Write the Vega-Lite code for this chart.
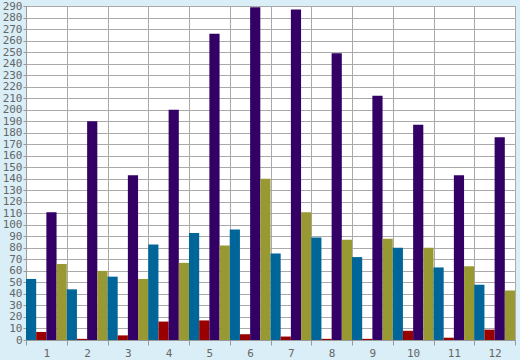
{
  "$schema": "https://vega.github.io/schema/vega-lite/v6.json",
  "width": 489,
  "height": 334,
  "autosize": {"type": "none"},
  "padding": {"left": 26, "top": 6, "right": 5, "bottom": 20},
  "background": "#d9eef6",
  "config": {
    "view": {"fill": "white", "stroke": "#aaaaaa", "strokeWidth": 1},
    "axis": {"labelFont": "DejaVu Sans Mono", "labelFontSize": 11, "labelColor": "#666666", "gridColor": "#aaaaaa", "gridOpacity": 1, "gridWidth": 1, "domainColor": "#999999", "tickColor": "#999999", "title": null}
  },
  "data": {
    "values": [
      {"g": 1, "s": "a", "v": 53}, {"g": 1, "s": "b", "v": 7}, {"g": 1, "s": "c", "v": 111}, {"g": 1, "s": "d", "v": 66},
      {"g": 2, "s": "a", "v": 44}, {"g": 2, "s": "b", "v": 1}, {"g": 2, "s": "c", "v": 190}, {"g": 2, "s": "d", "v": 60},
      {"g": 3, "s": "a", "v": 55}, {"g": 3, "s": "b", "v": 4}, {"g": 3, "s": "c", "v": 143}, {"g": 3, "s": "d", "v": 53},
      {"g": 4, "s": "a", "v": 83}, {"g": 4, "s": "b", "v": 16}, {"g": 4, "s": "c", "v": 200}, {"g": 4, "s": "d", "v": 67},
      {"g": 5, "s": "a", "v": 93}, {"g": 5, "s": "b", "v": 17}, {"g": 5, "s": "c", "v": 266}, {"g": 5, "s": "d", "v": 82},
      {"g": 6, "s": "a", "v": 96}, {"g": 6, "s": "b", "v": 5}, {"g": 6, "s": "c", "v": 289}, {"g": 6, "s": "d", "v": 140},
      {"g": 7, "s": "a", "v": 75}, {"g": 7, "s": "b", "v": 3}, {"g": 7, "s": "c", "v": 287}, {"g": 7, "s": "d", "v": 111},
      {"g": 8, "s": "a", "v": 89}, {"g": 8, "s": "b", "v": 1}, {"g": 8, "s": "c", "v": 249}, {"g": 8, "s": "d", "v": 87},
      {"g": 9, "s": "a", "v": 72}, {"g": 9, "s": "b", "v": 1}, {"g": 9, "s": "c", "v": 212}, {"g": 9, "s": "d", "v": 88},
      {"g": 10, "s": "a", "v": 80}, {"g": 10, "s": "b", "v": 8}, {"g": 10, "s": "c", "v": 187}, {"g": 10, "s": "d", "v": 80},
      {"g": 11, "s": "a", "v": 63}, {"g": 11, "s": "b", "v": 2}, {"g": 11, "s": "c", "v": 143}, {"g": 11, "s": "d", "v": 64},
      {"g": 12, "s": "a", "v": 48}, {"g": 12, "s": "b", "v": 9}, {"g": 12, "s": "c", "v": 176}, {"g": 12, "s": "d", "v": 43}
    ]
  },
  "mark": {"type": "bar"},
  "encoding": {
    "x": {
      "field": "g", "type": "ordinal",
      "scale": {"paddingInner": 0, "paddingOuter": 0},
      "axis": {"labelAngle": 0, "tickBand": "extent", "grid": true, "tickSize": 5, "labelPadding": 2, "domain": true}
    },
    "xOffset": {"field": "s", "type": "nominal", "sort": ["a", "b", "c", "d"], "scale": {"paddingInner": 0, "paddingOuter": 0}},
    "y": {
      "field": "v", "type": "quantitative",
      "scale": {"domain": [0, 290], "nice": false},
      "axis": {"values": [0,10,20,30,40,50,60,70,80,90,100,110,120,130,140,150,160,170,180,190,200,210,220,230,240,250,260,270,280,290], "grid": true, "tickSize": 3, "labelPadding": 1}
    },
    "color": {
      "field": "s", "type": "nominal", "legend": null,
      "scale": {"domain": ["a", "b", "c", "d"], "range": ["#006699", "#990000", "#330066", "#999933"]}
    }
  }
}
